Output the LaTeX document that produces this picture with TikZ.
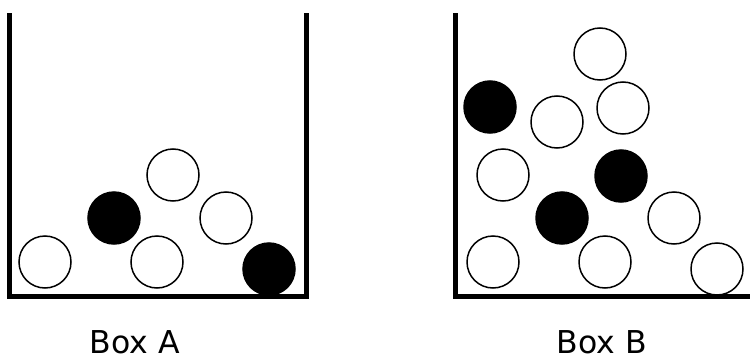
\documentclass[tikz,border=0pt]{standalone}
\usepackage{fontspec}
\setmainfont{DejaVu Sans}
\begin{document}
\begin{tikzpicture}[x=1pt,y=-1pt,
  ball/.style={circle, draw, line width=1.5pt, minimum size=52pt, inner sep=0pt},
  whiteball/.style={ball, fill=white},
  blackball/.style={ball, fill=black},
  wall/.style={line width=5pt, line join=miter},
  boxlabel/.style={anchor=base, inner sep=0pt, font=\fontsize{31.5}{36}\selectfont}]
\useasboundingbox (0,0) rectangle (750,356);
% Box A
\node[whiteball] (a1) at (45,262) {};
\node[blackball] (a2) at (114,218) {};
\node[whiteball] (a3) at (173,175) {};
\node[whiteball] (a4) at (157,262) {};
\node[whiteball] (a5) at (226,218) {};
\node[blackball] (a6) at (269,269) {};
\draw[wall] (9.5,13) -- (9.5,296) -- (306.5,296) -- (306.5,13);
\node[boxlabel] (labelA) at (135,353) {Box A};
% Box B
\node[whiteball] (b1) at (600,54) {};
\node[blackball] (b2) at (490,107) {};
\node[whiteball] (b3) at (557,122) {};
\node[whiteball] (b4) at (623,108) {};
\node[whiteball] (b5) at (503,175) {};
\node[blackball] (b6) at (621,176) {};
\node[blackball] (b7) at (562,218) {};
\node[whiteball] (b8) at (674,218) {};
\node[whiteball] (b9) at (493,262) {};
\node[whiteball] (b10) at (605,262) {};
\node[whiteball] (b11) at (717,269) {};
\draw[wall] (455.5,13) -- (455.5,296) -- (750,296);
\node[boxlabel] (labelB) at (602,353) {Box B};
\end{tikzpicture}
\end{document}
